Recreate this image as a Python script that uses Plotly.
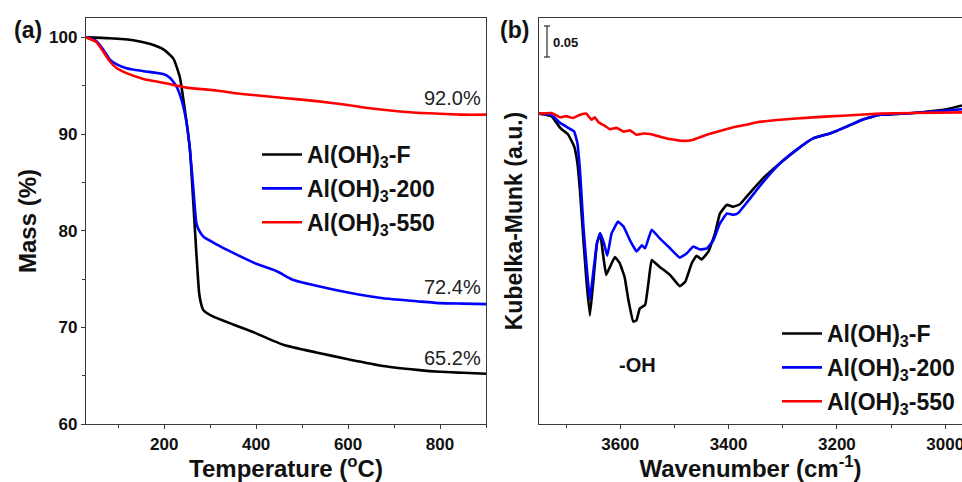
import plotly.graph_objects as go

# ---------------- (a) TGA data ----------------
tga_F_T = [30, 80, 133, 170, 200, 220, 234, 245, 256, 263, 270, 276, 280, 285, 307, 350, 399, 459, 531, 600, 676, 750, 800, 850, 900]
tga_F_M = [100.0, 99.9, 99.7, 99.3, 98.7, 97.8, 95.9, 92.5, 88.4, 83.2, 77.7, 73.6, 72.5, 71.8, 71.1, 70.3, 69.4, 68.2, 67.4, 66.7, 66.0, 65.6, 65.4, 65.3, 65.2]

tga_200_T = [30, 53, 68, 82, 97, 118, 155, 198, 213, 227, 238, 249, 256, 263, 270, 275, 285, 321, 350, 399, 445, 481, 531, 600, 676, 749, 800, 850, 900]
tga_200_M = [100.0, 99.6, 98.7, 97.7, 97.2, 96.8, 96.5, 96.2, 95.8, 94.9, 93.5, 91.1, 88.4, 84.6, 80.8, 80.1, 79.4, 78.4, 77.7, 76.6, 75.8, 74.9, 74.3, 73.6, 73.0, 72.7, 72.5, 72.45, 72.4]

tga_550_T = [30, 53, 82, 97, 118, 155, 198, 249, 314, 350, 399, 466, 531, 600, 626, 676, 749, 800, 850, 900]
tga_550_M = [100.0, 99.5, 97.5, 96.8, 96.3, 95.7, 95.3, 94.8, 94.5, 94.25, 94.0, 93.7, 93.4, 93.0, 92.8, 92.5, 92.2, 92.1, 92.0, 92.0]

residue_labels = ["92.0%", "72.4%", "65.2%"]
residue_label_y = [93.74, 74.2, 66.85]

# ---------------- (b) DRIFTS data ----------------
ir_F_W = [3750, 3727, 3711, 3696, 3685, 3679, 3674, 3668, 3662, 3656, 3650, 3643, 3637, 3632, 3626, 3619, 3610, 3601, 3592, 3585, 3576, 3570, 3564, 3554, 3548, 3542, 3527, 3508, 3490, 3480, 3468, 3459, 3450, 3437, 3425, 3416, 3403, 3391, 3379, 3367, 3336, 3305, 3274, 3244, 3213, 3182, 3151, 3120, 3059, 2997, 2969]
ir_F_K = [0.002, -0.002, -0.021, -0.032, -0.051, -0.078, -0.126, -0.202, -0.271, -0.323, -0.271, -0.207, -0.191, -0.223, -0.258, -0.245, -0.229, -0.239, -0.261, -0.298, -0.333, -0.331, -0.312, -0.306, -0.271, -0.234, -0.245, -0.258, -0.276, -0.269, -0.239, -0.227, -0.233, -0.220, -0.191, -0.159, -0.145, -0.148, -0.144, -0.132, -0.102, -0.078, -0.056, -0.038, -0.030, -0.019, -0.007, 0.000, 0.003, 0.009, 0.015]

ir_200_W = [3750, 3727, 3711, 3696, 3685, 3679, 3674, 3668, 3662, 3656, 3650, 3643, 3637, 3630, 3624, 3616, 3604, 3594, 3582, 3570, 3560, 3554, 3542, 3527, 3508, 3490, 3477, 3465, 3453, 3440, 3428, 3416, 3403, 3391, 3382, 3367, 3336, 3305, 3274, 3244, 3213, 3182, 3151, 3120, 3059, 2997, 2969]
ir_200_K = [0.002, 0.000, -0.013, -0.021, -0.027, -0.046, -0.094, -0.180, -0.245, -0.298, -0.255, -0.207, -0.191, -0.207, -0.227, -0.191, -0.172, -0.180, -0.202, -0.220, -0.210, -0.215, -0.185, -0.199, -0.215, -0.230, -0.223, -0.212, -0.217, -0.215, -0.202, -0.175, -0.159, -0.161, -0.158, -0.142, -0.108, -0.078, -0.056, -0.038, -0.030, -0.019, -0.007, 0.000, 0.003, 0.007, 0.009]

ir_550_W = [3750, 3727, 3711, 3700, 3687, 3674, 3663, 3653, 3647, 3640, 3628, 3619, 3607, 3594, 3582, 3570, 3557, 3545, 3527, 3508, 3483, 3465, 3440, 3416, 3391, 3367, 3348, 3305, 3244, 3182, 3120, 3059, 2969]
ir_550_K = [0.002, 0.003, -0.004, -0.002, -0.005, 0.000, 0.002, -0.008, -0.004, -0.012, -0.018, -0.023, -0.021, -0.027, -0.025, -0.032, -0.030, -0.031, -0.035, -0.039, -0.042, -0.040, -0.032, -0.026, -0.020, -0.016, -0.012, -0.008, -0.004, -0.001, 0.002, 0.003, 0.004]

series_names = ["<b>Al(OH)<sub>3</sub>-F</b>", "<b>Al(OH)<sub>3</sub>-200</b>", "<b>Al(OH)<sub>3</sub>-550</b>"]
series_colors = ["#000000", "#0000FF", "#FF0000"]

FONT = "Liberation Sans, Arial, sans-serif"
AX = "#3a3a3a"

fig = go.Figure()

tga = [(tga_F_T, tga_F_M), (tga_200_T, tga_200_M), (tga_550_T, tga_550_M)]
for i, (t, m) in enumerate(tga):
    fig.add_trace(go.Scatter(x=t, y=m, mode="lines", name=series_names[i],
                             line=dict(color=series_colors[i], width=2.6, shape="spline", smoothing=0.5),
                             xaxis="x", yaxis="y", legend="legend", legendgroup="a%d" % i))

ir = [(ir_F_W, ir_F_K), (ir_200_W, ir_200_K), (ir_550_W, ir_550_K)]
for i, (w, k) in enumerate(ir):
    fig.add_trace(go.Scatter(x=w, y=k, mode="lines", name=series_names[i],
                             line=dict(color=series_colors[i], width=2.6, shape="spline", smoothing=0.3),
                             xaxis="x2", yaxis="y2", legend="legend2", legendgroup="b%d" % i))

ydom = [1 - 424 / 482, 1 - 18 / 482]

common_axis = dict(showgrid=False, zeroline=False, showline=True, linecolor=AX, linewidth=1.3,
                   automargin=False, ticklabeloverflow="allow",
                   tickfont=dict(family=FONT, size=17, color="#111"), tickcolor=AX)

fig.update_layout(
    template="none",
    width=962, height=482,
    margin=dict(l=0, r=0, t=0, b=0, autoexpand=False),
    paper_bgcolor="white", plot_bgcolor="white",
    font=dict(family=FONT, color="#111"),
    xaxis=dict(common_axis, domain=[86 / 962, 486 / 962], range=[30, 900], anchor="y",
               tickmode="linear", tick0=0, dtick=200, ticks="outside", ticklen=4, mirror=True,
               minor=dict(dtick=100, tick0=0, ticks="outside", ticklen=3, tickcolor=AX),
               tickprefix="<b>", ticksuffix="</b>",
               title=dict(text="<b>Temperature (<sup>o</sup>C)</b>", font=dict(size=24, family=FONT), standoff=3)),
    yaxis=dict(common_axis, domain=ydom, range=[60, 102], anchor="x",
               tickmode="linear", tick0=60, dtick=10, ticks="outside", ticklen=4, mirror=True,
               minor=dict(dtick=5, tick0=60, ticks="outside", ticklen=3, tickcolor=AX),
               tickprefix="<b>", ticksuffix="</b>",
               title=dict(text="<b>Mass (%)</b>", font=dict(size=24, family=FONT), standoff=5)),
    xaxis2=dict(common_axis, domain=[539 / 962, 1.0], range=[3750, 2969], anchor="y2",
                tickmode="linear", tick0=3000, dtick=200, ticks="outside", ticklen=4, mirror=True,
                minor=dict(dtick=100, tick0=3000, ticks="outside", ticklen=3, tickcolor=AX),
                tickprefix="<b>", ticksuffix="</b>",
                title=dict(text="<b>Wavenumber (cm<sup>-1</sup>)</b>", font=dict(size=24, family=FONT), standoff=3)),
    yaxis2=dict(common_axis, domain=ydom, range=[-0.498, 0.156], anchor="x2",
                showticklabels=False, ticks="", mirror=False,
                title=dict(text="<b>Kubelka-Munk (a.u.)</b>", font=dict(size=23, family=FONT), standoff=8)),
    legend=dict(x=257 / 962, y=1 - 133 / 482, xanchor="left", yanchor="top",
                bgcolor="rgba(0,0,0,0)", font=dict(size=23, family=FONT, color="#111"),
                tracegroupgap=1, itemwidth=40),
    legend2=dict(x=777 / 962, y=1 - 312 / 482, xanchor="left", yanchor="top",
                 bgcolor="rgba(0,0,0,0)", font=dict(size=23, family=FONT, color="#111"),
                 tracegroupgap=1, itemwidth=40),
)

# residue annotations (a)
for lab, yv in zip(residue_labels, residue_label_y):
    fig.add_annotation(x=893, y=yv, xref="x", yref="y", text=lab, showarrow=False,
                       xanchor="right", yanchor="middle", font=dict(size=20, family=FONT, color="#222"))

# panel labels
fig.add_annotation(x=12 / 962, y=1 - 30 / 482, xref="paper", yref="paper", text="<b>(a)</b>",
                   showarrow=False, xanchor="left", yanchor="middle", font=dict(size=23, family=FONT, color="#111"))
fig.add_annotation(x=498 / 962, y=1 - 30 / 482, xref="paper", yref="paper", text="<b>(b)</b>",
                   showarrow=False, xanchor="left", yanchor="middle", font=dict(size=23, family=FONT, color="#111"))

# -OH label
fig.add_annotation(x=3569, y=-0.403, xref="x2", yref="y2", text="<b>-OH</b>", showarrow=False,
                   xanchor="center", yanchor="middle", font=dict(size=20, family=FONT, color="#111"))

# scale bar 0.05
bx0, bx1 = 544 / 962, 550 / 962
by_top, by_bot = 1 - 26 / 482, 1 - 57 / 482
fig.add_shape(type="line", xref="paper", yref="paper", x0=547 / 962, x1=547 / 962, y0=by_bot, y1=by_top,
              line=dict(color=AX, width=1.3))
fig.add_shape(type="line", xref="paper", yref="paper", x0=bx0, x1=bx1, y0=by_top, y1=by_top,
              line=dict(color=AX, width=1.3))
fig.add_shape(type="line", xref="paper", yref="paper", x0=bx0, x1=bx1, y0=by_bot, y1=by_bot,
              line=dict(color=AX, width=1.3))
fig.add_annotation(x=551 / 962, y=1 - 42 / 482, xref="paper", yref="paper", text="<b>0.05</b>",
                   showarrow=False, xanchor="left", yanchor="middle", font=dict(size=13, family=FONT, color="#111"))

fig.write_html("out.html")
